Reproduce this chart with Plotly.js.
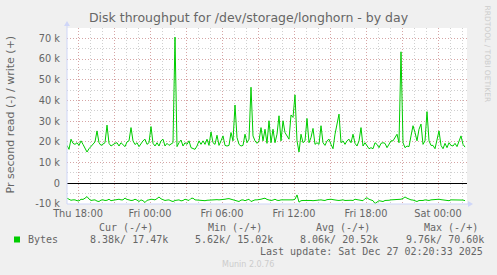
<!DOCTYPE html>
<html><head><meta charset="utf-8">
<script src="https://cdn.plot.ly/plotly-3.0.1.min.js"></script>
<style>html,body{margin:0;padding:0;background:#F0F0F0;overflow:hidden;} #chart{width:497px;height:275px;}</style>
</head><body><div id="chart"></div>
<script>
// ---- data (values in k bytes per second, 10-minute samples) ----
const seriesName = 'Bytes';
const startTime = Date.UTC(2025, 11, 25, 17, 5, 0);
const stepMinutes = 10;

const writeK = [
  18.3, 16.4, 21.3, 19.3, 18.8, 19.6, 18.3, 20.5, 18.8, 17.2,
  15.1, 16.7, 18.0, 18.8, 20.0, 25.3, 19.6, 18.3, 18.8, 19.6,
  28.1, 19.3, 18.0, 18.8, 19.3, 19.6, 18.0, 19.6, 18.8, 17.7,
  20.0, 20.5, 26.9, 20.5, 18.7, 19.6, 17.7, 19.3, 20.5, 21.3,
  18.8, 19.6, 27.4, 19.3, 18.0, 19.6, 18.0, 20.5, 21.3, 18.0,
  19.3, 18.3, 18.8, 19.6, 70.6, 17.7, 19.6, 20.9, 18.0, 19.6,
  18.8, 20.5, 17.2, 16.7, 16.4, 18.0, 20.5,
  18.8, 20.5, 18.8, 21.3, 18.3, 24.8, 19.6, 18.8, 23.2, 18.3,
  20.5, 22.9, 18.3, 18.0, 18.3, 24.5, 20.5, 37.8, 22.1, 18.8,
  18.0, 18.3, 23.7, 19.6, 21.3, 46.4, 22.9, 20.5, 19.3, 20.5,
  26.9, 20.5, 26.1, 19.3, 30.2, 19.6, 26.1, 19.6, 23.7, 32.6,
  20.5, 30.2, 24.5, 22.9, 21.3, 33.0, 31.8, 42.7, 20.5, 15.1,
  23.7, 19.6, 20.5, 31.3, 19.6, 22.1, 26.5, 18.8, 19.6, 18.8,
  27.8, 19.6, 18.3, 20.5, 21.3, 18.8, 16.7,
  23.7, 27.8, 33.4, 19.6, 20.5, 18.8, 20.5, 21.3, 19.6, 23.7,
  19.3, 18.0, 20.5, 26.9, 18.0, 19.6, 18.0, 16.7, 17.2, 16.7,
  19.6, 18.8, 17.2, 19.3, 19.6, 19.3, 17.2, 18.8, 20.5, 20.5,
  22.1, 23.7, 19.6, 63.5, 19.6, 17.2, 18.0, 17.7, 22.9, 27.8,
  24.5, 20.5, 26.1, 28.6, 18.8, 20.5, 34.6, 20.5, 18.3, 18.3,
  16.7, 21.3, 25.3, 18.3, 16.7, 19.3, 17.2, 19.6, 18.3, 18.0,
  19.3, 17.7, 20.5, 22.9, 18.8, 17.47
];

const readK = [
  -7.2, -7.6, -8.2, -8.0, -8.0, -8.4, -8.5, -7.7, -7.8, -7.2,
  -6.4, -7.6, -8.3, -8.1, -8.0, -8.6, -8.8, -8.1, -8.0, -8.3,
  -8.2, -7.7, -8.4, -8.2, -8.0, -7.9, -7.7, -8.0, -8.0, -7.1,
  -7.8, -8.0, -8.3, -8.2, -7.7, -8.1, -8.8, -8.0, -8.4, -9.3,
  -8.2, -8.0, -7.7, -7.8, -8.0, -7.4, -6.6, -7.5, -7.8, -8.3,
  -8.1, -8.0, -8.5, -8.8, -8.3, -8.0, -8.0, -8.5, -8.3, -7.7,
  -8.2, -8.3, -7.3, -7.2, -8.0, -8.1, -8.3,
  -8.3, -8.3, -8.4, -8.2, -8.1, -8.0, -7.9, -7.7, -7.9, -8.0,
  -8.0, -8.0, -7.7, -7.5, -7.4, -7.7, -8.0, -8.3, -8.6, -8.8,
  -8.1, -8.0, -8.4, -8.0, -7.7, -8.8, -8.2, -8.0, -8.0, -8.0,
  -7.7, -7.4, -7.2, -7.8, -8.0, -8.3, -8.1, -7.7, -8.2, -8.3,
  -8.0, -8.0, -8.3, -8.0, -8.0, -8.3, -8.0, -7.7, -5.62, -9.1,
  -8.4, -8.3, -8.3, -8.2, -8.0, -8.3, -8.4, -8.3, -8.0, -8.0,
  -8.0, -8.2, -8.3, -7.9, -7.7, -7.7, -7.9,
  -7.9, -8.2, -8.3, -8.1, -8.0, -8.3, -8.2, -8.0, -8.2, -8.3,
  -7.7, -7.9, -8.0, -8.2, -8.4, -7.4, -7.0, -7.7, -8.0, -8.4,
  -9.76, -9.0, -8.4, -8.6, -8.8, -8.3, -8.4, -8.2, -8.0, -7.9,
  -8.0, -8.0, -7.9, -7.7, -7.3, -6.6, -7.2, -7.7, -8.0, -8.1,
  -8.6, -8.8, -8.3, -8.4, -8.3, -8.0, -8.2, -8.3, -8.0, -7.9,
  -7.7, -7.8, -7.7, -7.9, -8.0, -8.0, -8.3, -8.4, -8.0, -8.0,
  -8.3, -8.2, -8.0, -8.0, -8.1, -8.38
];

const yTickVals = [-10, 0, 10, 20, 30, 40, 50, 60, 70];
const yTickLabels = ['-10 k', '0', '10 k', '20 k', '30 k', '40 k', '50 k', '60 k', '70 k'];
const xTickVals = ['2025-12-25 18:00', '2025-12-25 21:00', '2025-12-26 00:00', '2025-12-26 03:00',
  '2025-12-26 06:00', '2025-12-26 09:00', '2025-12-26 12:00', '2025-12-26 15:00',
  '2025-12-26 18:00', '2025-12-26 21:00', '2025-12-27 00:00'];
const xTickLabels = ['Thu 18:00', '', 'Fri 00:00', '', 'Fri 06:00', '', 'Fri 12:00', '',
  'Fri 18:00', '', 'Sat 00:00'];
const legendHeaders = ['Cur (-/+)', 'Min (-/+)', 'Avg (-/+)', 'Max (-/+)'];
const legendValues = ['8.38k/ 17.47k', '5.62k/ 15.02k', '8.06k/ 20.52k', '9.76k/ 70.60k'];
const lastUpdate = 'Last update: Sat Dec 27 02:20:33 2025';
const titleText = 'Disk throughput for /dev/storage/longhorn - by day';
const yTitleText = 'Pr second read (-) / write (+)';

// ---- build ----
function timesFor(arr) { return arr.map((_, i) => startTime + i * stepMinutes * 60000); }

const W = 497, H = 275, L = 67, R = 30, T = 28, B = 71;
const PW = W - L - R, PH = H - T - B;
const px = x => (x - L) / PW;
const py = y => (H - B - y) / PH;

const GREEN = '#00CC00';
const FONT = '#666666';
const AXIS = '#CFD6F8';
const MGRID = 'rgba(227,80,80,0.33)';
const GRID = 'rgba(143,143,143,0.42)';
const DASH = '1px,2px';

const traces = [
  { x: timesFor(writeK), y: writeK, type: 'scatter', mode: 'lines', name: seriesName,
    line: { color: GREEN, width: 1 }, hoverinfo: 'skip', showlegend: false },
  { x: timesFor(readK), y: readK, type: 'scatter', mode: 'lines', name: seriesName,
    line: { color: GREEN, width: 1 }, hoverinfo: 'skip', showlegend: false }
];

const mono = { family: 'DejaVu Sans Mono', size: 10, color: FONT };
const annotations = [];
const hdrX = [98, 207, 315, 423];
const valX = [89, 194, 299, 405];
legendHeaders.forEach((t, i) => annotations.push({ text: t, x: px(hdrX[i] - 1), y: py(228), xref: 'paper', yref: 'paper',
  xanchor: 'left', yanchor: 'middle', showarrow: false, font: mono }));
annotations.push({ text: seriesName, x: px(26), y: py(239.5), xref: 'paper', yref: 'paper',
  xanchor: 'left', yanchor: 'middle', showarrow: false, font: mono });
legendValues.forEach((t, i) => annotations.push({ text: t, x: px(valX[i] - 1), y: py(239.5), xref: 'paper', yref: 'paper',
  xanchor: 'left', yanchor: 'middle', showarrow: false, font: mono }));
annotations.push({ text: lastUpdate, x: px(485), y: py(251.5), xref: 'paper', yref: 'paper',
  xanchor: 'right', yanchor: 'middle', showarrow: false, font: mono });
annotations.push({ text: 'Munin 2.0.76', x: px(248), y: py(264.5), xref: 'paper', yref: 'paper',
  xanchor: 'center', yanchor: 'middle', showarrow: false, font: { family: 'DejaVu Sans', size: 8, color: '#CCCCCC' } });
annotations.push({ text: 'RRDTOOL / TOBI OETIKER', x: px(487), y: py(53.5), xref: 'paper', yref: 'paper',
  xanchor: 'center', yanchor: 'middle', textangle: 90, showarrow: false, font: { family: 'DejaVu Sans', size: 7.5, color: '#CCCCCC' } });
annotations.push({ text: yTitleText, x: px(10), y: py(114.5), xref: 'paper', yref: 'paper',
  xanchor: 'center', yanchor: 'middle', textangle: -90, showarrow: false, font: { family: 'DejaVu Sans', size: 11, color: FONT } });

const shapes = [
  { type: 'line', xref: 'paper', yref: 'paper', x0: 0, x1: 0, y0: 0, y1: py(24), line: { color: AXIS, width: 1 }, layer: 'above' },
  { type: 'line', xref: 'paper', yref: 'paper', x0: 0, x1: px(470), y0: 0, y1: 0, line: { color: AXIS, width: 1 }, layer: 'above' },
  { type: 'path', xref: 'paper', yref: 'paper', path: `M ${px(64)} ${py(26)} L ${px(70)} ${py(26)} L ${px(67)} ${py(21)} Z`,
    fillcolor: AXIS, line: { width: 0 }, layer: 'above' },
  { type: 'path', xref: 'paper', yref: 'paper', path: `M ${px(468)} ${py(201)} L ${px(468)} ${py(207)} L ${px(473)} ${py(204)} Z`,
    fillcolor: AXIS, line: { width: 0 }, layer: 'above' },
  { type: 'rect', xref: 'paper', yref: 'paper', x0: px(14), x1: px(20), y0: py(242.5), y1: py(236.5),
    fillcolor: GREEN, line: { width: 0 } }
];

const layout = {
  width: W, height: H,
  margin: { l: L, r: R, t: T, b: B, pad: 0 },
  paper_bgcolor: '#F0F0F0', plot_bgcolor: '#FFFFFF',
  showlegend: false,
  title: { text: titleText, x: 0.5, xref: 'container', xanchor: 'center', y: 1 - 18 / H, yref: 'container', yanchor: 'middle',
    font: { family: 'DejaVu Sans', size: 12.5, color: FONT } },
  xaxis: {
    type: 'date',
    range: [startTime, Date.UTC(2025, 11, 27, 2, 25, 0)],
    tickmode: 'array', tickvals: xTickVals, ticktext: xTickLabels,
    showgrid: true, gridcolor: MGRID, griddash: DASH, gridwidth: 1,
    minor: { dtick: 3600000, tick0: '2025-12-25 18:00', showgrid: true, gridcolor: GRID, griddash: DASH, gridwidth: 1 },
    ticks: '', showline: false, zeroline: false,
    tickfont: { family: 'DejaVu Sans', size: 9.8, color: FONT },
    ticklabelstandoff: 2,
    fixedrange: true
  },
  yaxis: {
    range: [-10, 75],
    tickmode: 'array', tickvals: yTickVals, ticktext: yTickLabels,
    showgrid: true, gridcolor: MGRID, griddash: DASH, gridwidth: 1,
    minor: { dtick: 5, tick0: 0, showgrid: true, gridcolor: GRID, griddash: DASH, gridwidth: 1 },
    ticks: '', showline: false,
    zeroline: true, zerolinecolor: '#000000', zerolinewidth: 1,
    tickfont: { family: 'DejaVu Sans', size: 9.8, color: FONT },
    ticklabelstandoff: 6,
    fixedrange: true
  },
  annotations: annotations,
  shapes: shapes
};

Plotly.newPlot('chart', traces, layout, { displayModeBar: false, staticPlot: true });
</script>
</body></html>
